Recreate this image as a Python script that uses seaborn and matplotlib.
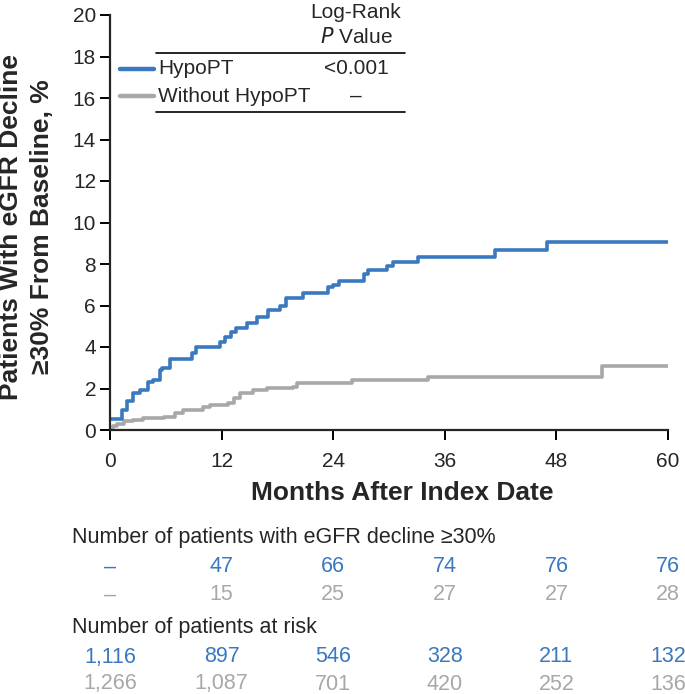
import matplotlib
matplotlib.use("Agg")
import matplotlib.pyplot as plt
import matplotlib.transforms as mtrans
from matplotlib.lines import Line2D
import seaborn as sns
import pandas as pd

# ---- data ----
hypo_months = [0, 0.7, 1.25, 1.8, 2.5, 3.2, 4.1, 4.6, 5.4, 5.6, 6.5, 8.8, 9.2, 11.2, 11.8, 12.4,
               13.0, 13.6, 14.7, 15.8, 17.0, 18.3, 18.9, 20.7, 23.4, 24.0, 24.6, 27.3, 27.7,
               29.8, 30.4, 33.1, 41.4, 47.0, 60]
hypo_pct = [0.53, 0.53, 0.96, 1.4, 1.8, 1.93, 2.3, 2.4, 2.9, 3.0, 3.4, 3.7, 4.0, 4.0, 4.25, 4.5,
            4.7, 4.9, 5.15, 5.45, 5.8, 6.0, 6.35, 6.6, 6.9, 7.0, 7.2, 7.5, 7.7,
            7.9, 8.1, 8.33, 8.67, 9.06, 9.06]
ctrl_months = [0, 0.3, 0.8, 1.5, 2.5, 3.5, 5.8, 7.0, 7.8, 10.0, 10.8, 12.7, 13.3, 14.0, 15.4,
               16.9, 19.7, 20.1, 26.0, 34.2, 52.9, 60]
ctrl_pct = [0, 0.2, 0.3, 0.42, 0.5, 0.6, 0.65, 0.8, 0.96, 1.1, 1.2, 1.3, 1.55, 1.78, 1.93,
            2.02, 2.07, 2.26, 2.4, 2.55, 3.08, 3.08]

groups = ["HypoPT", "Without HypoPT"]
pvalues = ["<0.001", "–"]
table_months = [0, 12, 24, 36, 48, 60]
events_hypo = ["–", "47", "66", "74", "76", "76"]
events_ctrl = ["–", "15", "25", "27", "27", "28"]
risk_hypo = ["1,116", "897", "546", "328", "211", "132"]
risk_ctrl = ["1,266", "1,087", "701", "420", "252", "136"]

BLUE = "#3a78bf"
GRAY = "#a8a8a8"
colors = {groups[0]: BLUE, groups[1]: GRAY}

sns.set_style("ticks")
plt.rcParams["font.family"] = ["Liberation Sans", "DejaVu Sans"]

df = pd.concat([
    pd.DataFrame({"month": hypo_months, "pct": hypo_pct, "group": groups[0]}),
    pd.DataFrame({"month": ctrl_months, "pct": ctrl_pct, "group": groups[1]}),
])

W, H = 685, 694
fig = plt.figure(figsize=(W / 100, H / 100), dpi=100)
ax = fig.add_axes([110 / W, 1 - 430 / H, 558 / W, 415 / H])

sns.lineplot(data=df, x="month", y="pct", hue="group", palette=colors,
             hue_order=groups[::-1], estimator=None, drawstyle="steps-post",
             linewidth=2.6, legend=False, ax=ax)

ax.set_xlim(0, 60)
ax.set_ylim(0, 20)
ax.set_xticks(table_months)
ax.set_yticks(range(0, 21, 2))
ax.tick_params(labelsize=15, width=1.4, color="black")
ax.tick_params(axis="y", length=7, pad=3)
ax.tick_params(axis="x", length=7.5, pad=8)
for s in ["left", "bottom"]:
    ax.spines[s].set_linewidth(1.6)
sns.despine(ax=ax)
ax.set_xlabel("Months After Index Date", fontsize=19, fontweight="bold")
ax.xaxis.set_label_coords(0.524, -0.122)
ax.set_ylabel("Patients With eGFR Decline\n≥30% From Baseline, %", fontsize=19,
              fontweight="bold", linespacing=1.4)
ax.yaxis.set_label_coords(-0.100, 0.49)

# ---- legend (custom table style) ----
def fy(py):
    return 1 - py / H

for i, (g, p) in enumerate(zip(groups, pvalues)):
    yy = [69, 96][i]
    fig.add_artist(Line2D([120 / W, 154 / W], [fy(yy), fy(yy)], color=colors[g], lw=3.2,
                          transform=fig.transFigure))
    fig.text(158 / W, fy(yy), g, fontsize=15, va="center", ha="left")
    fig.text(356 / W, fy(yy), p, fontsize=15, va="center", ha="center")
fig.text(356 / W, fy(13), "Log-Rank", fontsize=15, va="center", ha="center")
fig.text(356 / W, fy(37), r"$\it{P}$ Value", fontsize=15, va="center", ha="center")
for yy in [53, 112]:
    fig.add_artist(Line2D([156 / W, 405 / W], [fy(yy), fy(yy)], color="black", lw=1.2,
                          transform=fig.transFigure))

# ---- at-risk table ----
tr = mtrans.blended_transform_factory(ax.transData, fig.transFigure)
fig.text(72 / W, fy(537), "Number of patients with eGFR decline ≥30%", fontsize=15.5,
         va="center", ha="left")
fig.text(72 / W, fy(627), "Number of patients at risk", fontsize=15.5, va="center", ha="left")
rows = [(events_hypo, BLUE, 567), (events_ctrl, GRAY, 595),
        (risk_hypo, BLUE, 657), (risk_ctrl, GRAY, 684)]
for vals, col, yy in rows:
    for m, v in zip(table_months, vals):
        ax.text(m, fy(yy), v, transform=tr, fontsize=15.5, color=col,
                va="center", ha="center", clip_on=False)

fig.savefig("out.png", dpi=100)
